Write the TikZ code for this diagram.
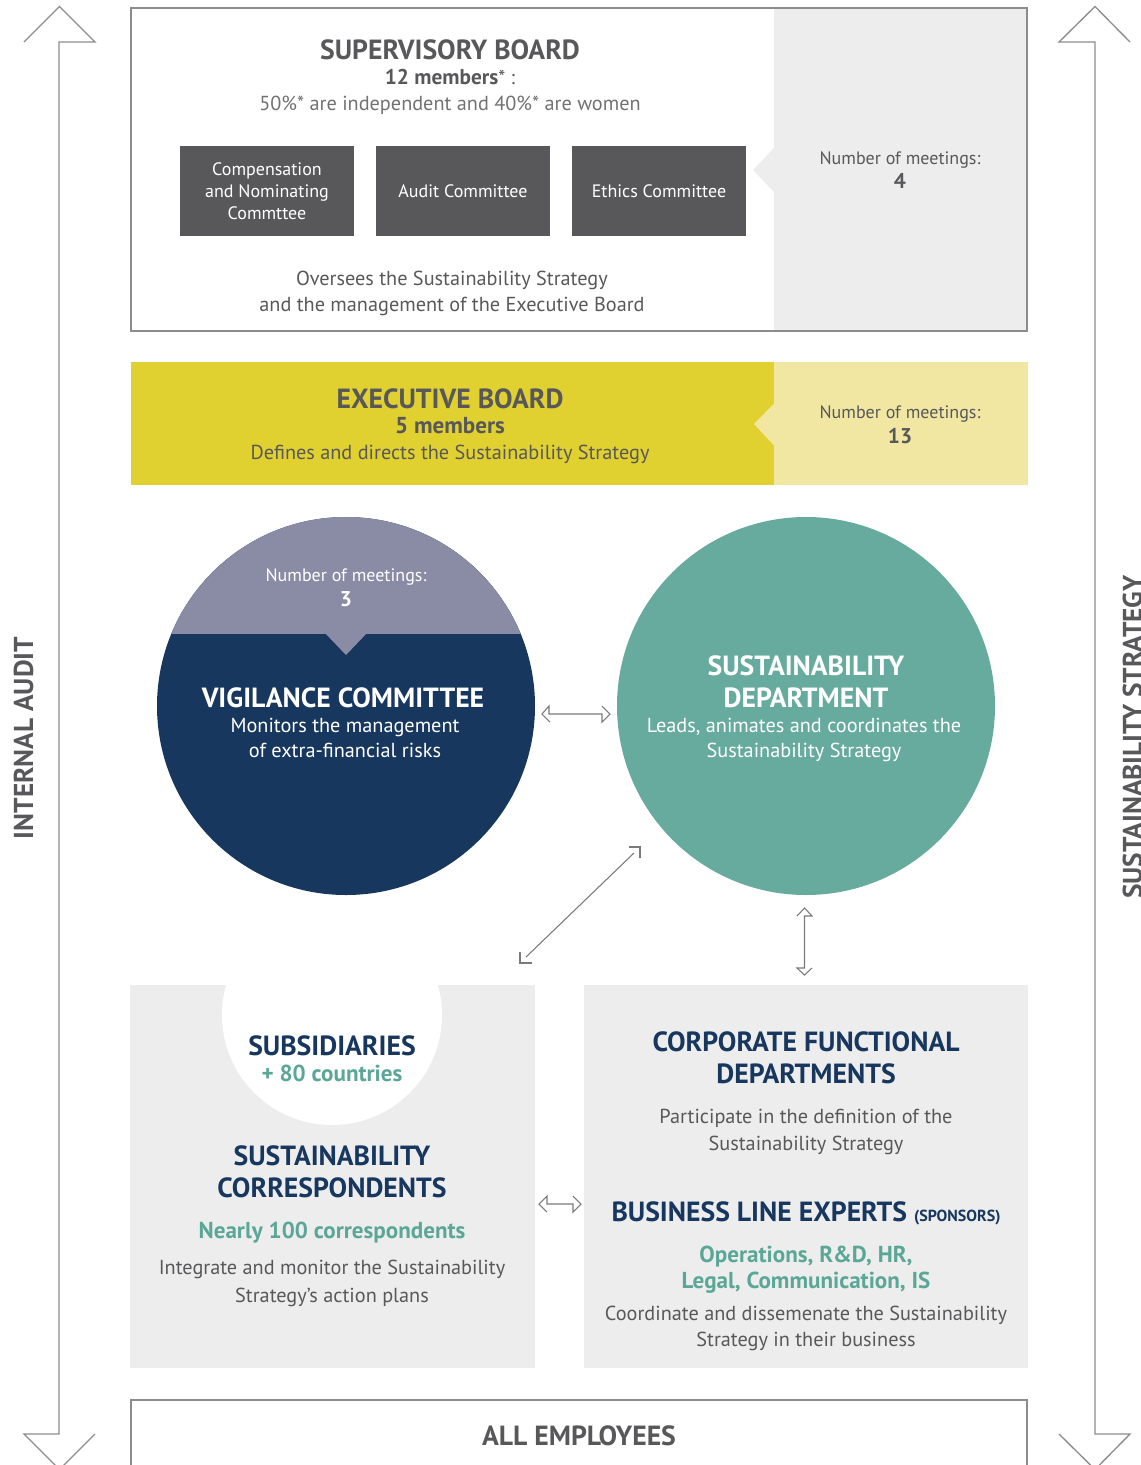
\documentclass[tikz,border=0pt]{standalone}
\usepackage{fontspec}
\setmainfont{PT Sans}
\definecolor{dgrey}{HTML}{58585A}
\definecolor{lgrey}{HTML}{EDEDED}
\definecolor{bgrey}{HTML}{8C8C8C}
\definecolor{agrey}{HTML}{7A7A7A}
\definecolor{navy}{HTML}{17375E}
\definecolor{tealc}{HTML}{67AB9F}
\definecolor{tealt}{HTML}{5BA797}
\definecolor{capc}{HTML}{8A8BA5}
\definecolor{yel}{HTML}{E0D030}
\definecolor{lyel}{HTML}{F1E7A3}
\newcommand{\fs}[1]{\fontsize{#1}{#1}\selectfont}
\begin{document}
\begin{tikzpicture}[x=0.75pt,y=-0.75pt,
  txt/.style={anchor=base,inner sep=0pt,outer sep=0pt,align=center},
  ttl/.style={txt,font=\fs{20.8}\bfseries},
  sub/.style={txt,font=\fs{17.3}\bfseries},
  body/.style={txt,font=\fs{15.2}},
  meet/.style={txt,font=\fs{13.5}},
  meetn/.style={txt,font=\fs{16}\bfseries},
  boxt/.style={txt,font=\fs{13.5},text=white},
  bigarrow/.style={draw=bgrey,line width=1pt},
  smallarrow/.style={draw=agrey,line width=0.8pt,line join=miter},
  side/.style={txt,font=\fs{20.5}\bfseries,text=dgrey,rotate=90}]
\useasboundingbox (0,0) rectangle (1140,1465);
\clip (0,0) rectangle (1140,1465);

% ---------- big side arrows
\draw[bigarrow] (24,42)--(59.5,6.5)--(95,42)--(59,42)--(59,1434)--(24,1434)--(59.5,1469.5)--(95,1434);
\draw[bigarrow] (1130,42)--(1095,6.5)--(1059,42)--(1095,42)--(1095,1434)--(1130,1434)--(1095,1469.5)--(1059,1434);
\node[side,anchor=base] (ia) at (33,738) {INTERNAL AUDIT};
\node[side,anchor=base] (ss) at (1142,737) {SUSTAINABILITY STRATEGY};

% ---------- supervisory board
\fill[lgrey] (774,8) rectangle (1027,331);
\fill[lgrey] (774,148)--(753,170)--(774,192)--cycle;
\draw[bgrey,line width=1pt] (131,8) rectangle (1027,331);
\node[ttl,text=dgrey] (sb) at (450,59) {SUPERVISORY BOARD};
\node[txt,text=dgrey] (sbm) at (450,84) {{\fs{16}\bfseries 12 members}{\fs{15}* :}};
\node[body,text=dgrey!85] (sbi) at (450,110) {50\%* are independent and 40\%* are women};
\fill[dgrey] (180,146) rectangle (354,236);
\fill[dgrey] (376,146) rectangle (550,236);
\fill[dgrey] (572,146) rectangle (746,236);
\node[boxt] (c1a) at (267,175) {Compensation};
\node[boxt] (c1b) at (267,197) {and Nominating};
\node[boxt] (c1c) at (267,219) {Commttee};
\node[boxt] (c2) at (463,197) {Audit Committee};
\node[boxt] (c3) at (659,197) {Ethics Committee};
\node[meet,text=dgrey] (sbn) at (900,164) {Number of meetings:};
\node[meetn,text=dgrey] (sbn2) at (900,188) {4};
\node[body,text=dgrey] (sbo1) at (452,285) {Oversees the Sustainability Strategy};
\node[body,text=dgrey] (sbo2) at (452,311) {and the management of the Executive Board};

% ---------- executive board
\fill[yel] (131,362) rectangle (774,485);
\fill[lyel] (774,362) rectangle (1028,485);
\fill[lyel] (774.5,403)--(754,424)--(774.5,446)--cycle;
\node[ttl,text=dgrey] (eb) at (450,408) {EXECUTIVE BOARD};
\node[sub,text=dgrey] (ebm) at (450,433) {5 members};
\node[body,text=dgrey] (ebd) at (450,459) {Defines and directs the Sustainability Strategy};
\node[meet,text=dgrey] (ebn) at (900,418) {Number of meetings:};
\node[meetn,text=dgrey] (ebn2) at (900,443) {13};

% ---------- vigilance committee
\fill[navy] (346,706) circle[radius=141.75pt];
\begin{scope}
  \clip (346,706) circle[radius=141.75pt];
  \fill[capc] (100,500) rectangle (600,634);
\end{scope}
\fill[capc] (325,633)--(346,655)--(367,633)--cycle;
\node[meet,text=white] (vn) at (346,581) {Number of meetings:};
\node[meetn,text=white] (vn2) at (346,606) {3};
\node[ttl,text=white] (vc) at (343,707) {VIGILANCE COMMITTEE};
\node[body,text=white] (vc1) at (345,732) {Monitors the management};
\node[body,text=white] (vc2) at (345,757) {of extra-financial risks};

% ---------- sustainability department
\fill[tealc] (806,706) circle[radius=141.75pt];
\node[ttl,text=white] (sd1) at (806,675) {SUSTAINABILITY};
\node[ttl,text=white] (sd2) at (806,707) {DEPARTMENT};
\node[body,text=white] (sd3) at (804,732) {Leads, animates and coordinates the};
\node[body,text=white] (sd4) at (804,757) {Sustainability Strategy};

% ---------- bottom left box
\fill[lgrey] (130,985) rectangle (535,1368);
\fill[white] (332,1015) circle[radius=82.5pt];
\node[ttl,text=navy] (su1) at (332,1055) {SUBSIDIARIES};
\node[sub,text=tealt] (su2) at (332,1081) {+ 80 countries};
\node[ttl,text=navy] (sc1) at (332,1165) {SUSTAINABILITY};
\node[ttl,text=navy] (sc2) at (332,1197) {CORRESPONDENTS};
\node[sub,text=tealt] (sc3) at (332,1238) {Nearly 100 correspondents};
\node[body,text=dgrey] (sc4) at (332,1274) {Integrate and monitor the Sustainability};
\node[body,text=dgrey] (sc5) at (332,1302) {Strategy’s action plans};

% ---------- bottom right box
\fill[lgrey] (584,985) rectangle (1028,1368);
\node[ttl,text=navy] (cf1) at (806,1051) {CORPORATE FUNCTIONAL};
\node[ttl,text=navy] (cf2) at (806,1083) {DEPARTMENTS};
\node[body,text=dgrey] (cf3) at (806,1123) {Participate in the definition of the};
\node[body,text=dgrey] (cf4) at (806,1150) {Sustainability Strategy};
\node[ttl,text=navy] (bl1) at (806,1221) {BUSINESS LINE EXPERTS {\fs{12}(SPONSORS)}};
\node[sub,text=tealt] (bl2) at (806,1262) {Operations, R\&D, HR,};
\node[sub,text=tealt] (bl3) at (806,1288) {Legal, Communication, IS};
\node[body,text=dgrey] (bl4) at (806,1320) {Coordinate and dissemenate the Sustainability};
\node[body,text=dgrey] (bl5) at (806,1346) {Strategy in their business};

% ---------- all employees
\draw[bgrey,line width=1pt] (131,1475)--(131,1400)--(1027,1400)--(1027,1475);
\node[ttl,text=dgrey] (ae) at (579,1445) {ALL EMPLOYEES};

% ---------- small arrows
\draw[smallarrow] (550,722)--(542,714)--(549,706)--(549,714)--(602,714)--(602,722)--(610,714)--(602,706);
\draw[smallarrow] (547,1212)--(539,1204)--(547,1196)--(547,1204)--(573,1204)--(573,1212)--(581,1204)--(573,1196);
\draw[smallarrow] (797,916)--(804.5,908)--(812,916)--(804.5,916)--(804.5,968)--(797,968)--(804.5,975)--(812,968);
\draw[smallarrow] (526,957)--(634,853);
\draw[smallarrow] (629,847)--(640,847)--(640,858);
\draw[smallarrow] (520,952)--(520,963)--(532,963);
\end{tikzpicture}
\end{document}
